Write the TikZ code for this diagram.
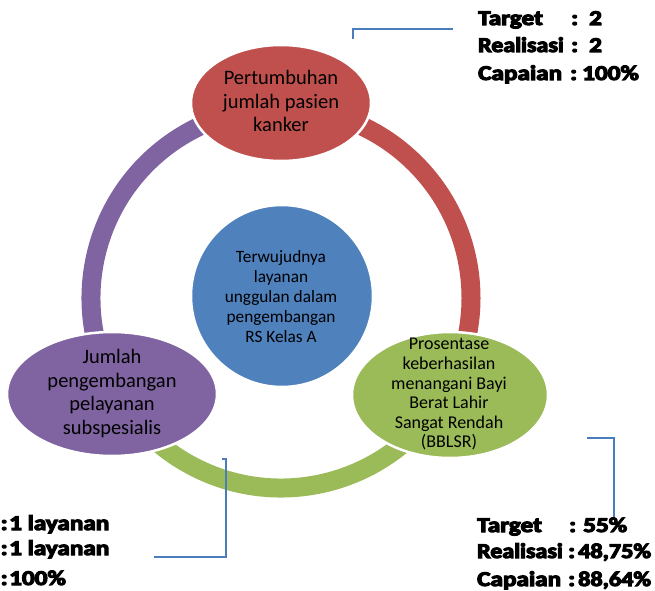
\documentclass[tikz,border=0pt]{standalone}
\usepackage{fontspec}
\setmainfont{Carlito}
\newfontfamily\statfont{Carlito}[BoldFeatures={FakeBold=5}]
\usetikzlibrary{shapes.geometric}
\definecolor{cred}{HTML}{C0504D}
\definecolor{cgreen}{HTML}{9BBB59}
\definecolor{cpurple}{HTML}{8064A2}
\definecolor{cblue}{HTML}{4F81BD}
\definecolor{cline}{HTML}{4A7EBB}
\newcommand{\wide}[1]{\scalebox{1.2}[1]{#1}}
\tikzset{
  ringarc/.style={line width=19pt},
  blob/.style={ellipse, draw=white, line width=2.5pt, inner sep=0pt},
  bigtxt/.style={align=center, inner sep=0pt, font=\fontsize{20.5}{23.5}\selectfont},
  stat/.style={anchor=base west, inner sep=0pt, font=\statfont\bfseries\fontsize{21}{24}\selectfont},
  bracket/.style={draw=cline, line width=1.8pt}
}
\begin{document}
\begin{tikzpicture}[x=1pt,y=1pt]
\useasboundingbox (0,0) rectangle (655,590);
\coordinate (ringc) at (281,292);
% ring
\draw[ringarc, cred] ([shift={(90:190)}]ringc) arc[start angle=90, end angle=-30, radius=190];
\draw[ringarc, cgreen] ([shift={(-30:190)}]ringc) arc[start angle=-30, end angle=-150, radius=190];
\draw[ringarc, cpurple] ([shift={(-150:190)}]ringc) arc[start angle=210, end angle=90, radius=190];
% shapes
\node[blob, fill=cred, minimum width=180pt, minimum height=116pt] (top) at (281,487) {};
\node[circle, fill=cblue, draw=white, line width=2.5pt, minimum size=182pt, inner sep=0pt] (mid) at (282,294) {};
\node[blob, fill=cgreen, minimum width=196pt, minimum height=126pt] (right) at (450,195) {};
\node[blob, fill=cpurple, minimum width=210pt, minimum height=124pt] (left) at (112,196) {};
% texts
\node[bigtxt] (toptxt) at (281,486.2) {Pertumbuhan\strut\\jumlah pasien\\kanker\strut};
\node[bigtxt] (lefttxt) at (112,195.3) {\fontsize{20.5}{23}\selectfont Jumlah\strut\\pengembangan\\pelayanan\\subspesialis\strut};
\node[align=center, inner sep=0pt, font=\fontsize{17.3}{20}\selectfont] (midtxt) at (281,292) {Terwujudnya\strut\\layanan\\unggulan dalam\\pengembangan\\RS Kelas A\strut};
\node[align=center, inner sep=0pt, font=\fontsize{18}{19.6}\selectfont] (righttxt) at (449,195) {Prosentase\strut\\keberhasilan\\menangani Bayi\\Berat Lahir\\Sangat Rendah\\(BBLSR)\strut};
% brackets
\coordinate (tb1) at (453,561); \coordinate (tb2) at (353,561); \coordinate (tb3) at (353,551);
\draw[bracket] (tb1) -- (tb2) -- (tb3);
\coordinate (lb1) at (222,131); \coordinate (lb2) at (226,131); \coordinate (lb3) at (226,33); \coordinate (lb4) at (154,33);
\draw[bracket] (lb1) -- (lb2) -- (lb3) -- (lb4);
\coordinate (rb1) at (587,152); \coordinate (rb2) at (614,152); \coordinate (rb3) at (614,70);
\draw[bracket] (rb1) -- (rb2) -- (rb3);
% stats top
\node[stat] (t1) at (478,565) {\wide{Target}};
\node[stat] (t1c) at (571,565) {\wide{:}};
\node[stat] (t1v) at (589,565) {\wide{2}};
\node[stat] (t2) at (478,538) {\scalebox{1.14}[1]{Realisasi}};
\node[stat] (t2c) at (571,538) {\wide{:}};
\node[stat] (t2v) at (589,538) {\wide{2}};
\node[stat] (t3) at (478,510) {\wide{Capaian}};
\node[stat] (t3c) at (570,510) {\wide{:}};
\node[stat] (t3v) at (582,510) {\wide{100\%}};
% stats bottom left
\node[stat] (l1c) at (0.5,60) {\wide{:}};
\node[stat] (l1) at (9,60) {\wide{1 layanan}};
\node[stat] (l2c) at (0.5,35) {\wide{:}};
\node[stat] (l2) at (9,35) {\wide{1 layanan}};
\node[stat] (l3c) at (0.5,5) {\wide{:}};
\node[stat] (l3) at (9,5) {\wide{100\%}};
% stats bottom right
\node[stat] (r1) at (477,58) {\wide{Target}};
\node[stat] (r1c) at (569,58) {\wide{:}};
\node[stat] (r1v) at (583,58) {\wide{55\%}};
\node[stat] (r2) at (477,32) {\scalebox{1.14}[1]{Realisasi}};
\node[stat] (r2c) at (568,32) {\wide{:}};
\node[stat] (r2v) at (578,32) {\scalebox{1.15}[1]{48,75\%}};
\node[stat] (r3) at (477,4) {\wide{Capaian}};
\node[stat] (r3c) at (568,4) {\wide{:}};
\node[stat] (r3v) at (578,4) {\scalebox{1.15}[1]{88,64\%}};
\end{tikzpicture}
\end{document}
